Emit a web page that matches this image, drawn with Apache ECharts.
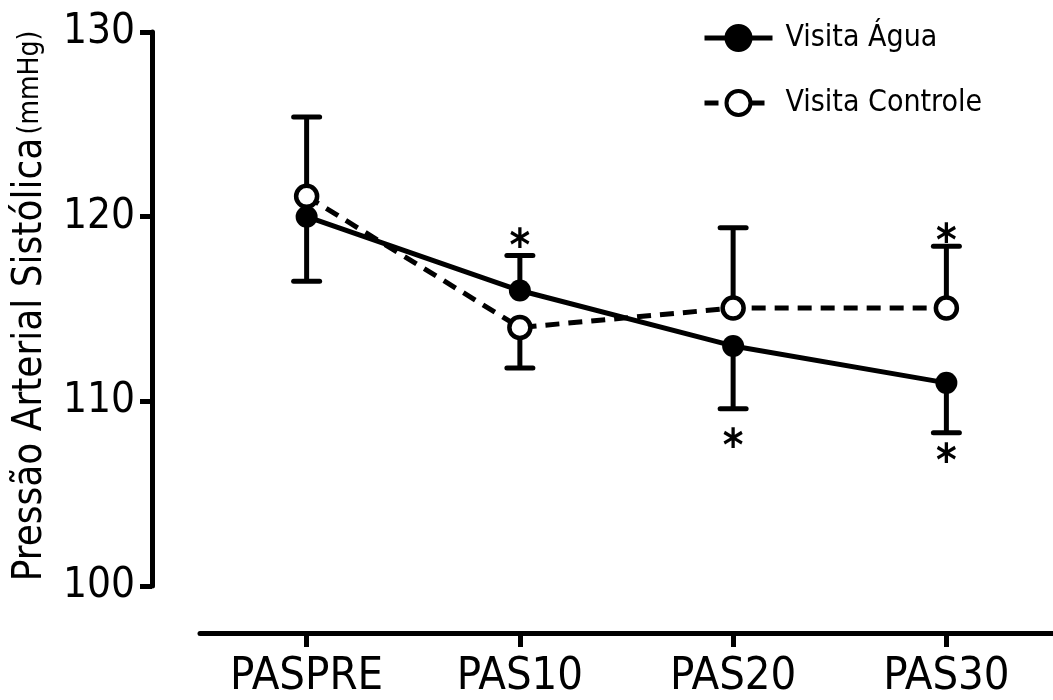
<!DOCTYPE html>
<html>
<head>
<meta charset="utf-8">
<script src="https://cdn.jsdelivr.net/npm/echarts@6/dist/echarts.min.js"></script>
<style>html,body{margin:0;padding:0;background:#fff}#c{width:1053px;height:700px}</style>
</head>
<body>
<div id="c"></div>
<script>
const categories = ['PASPRE', 'PAS10', 'PAS20', 'PAS30'];
const aguaMean = [120, 116, 113, 111];
const aguaErrEnd = [116.5, 117.9, 109.6, 108.3];
const controleMean = [121.1, 114, 115.05, 115.05];
const controleErrEnd = [125.4, 111.8, 119.4, 118.4];
const asterisks = [[1, 118.9], [2, 108.1], [3, 119.2], [3, 107.3]];
const yTicks = [100, 110, 120, 130];

const AXFONT = '"DejaVu Sans Condensed", sans-serif';
const LGFONT = '"DejaVu Sans Condensed", sans-serif';
const LW = 5;
const chart = echarts.init(document.getElementById('c'));

function errData(mean, end) {
  return mean.map((m, i) => [i, m, end[i]]);
}
function errRender(params, api) {
  const p1 = api.coord([api.value(0), api.value(1)]);
  const p2 = api.coord([api.value(0), api.value(2)]);
  const half = 13;
  const st = { stroke: '#000', lineWidth: LW };
  return {
    type: 'group',
    children: [
      { type: 'line', shape: { x1: p1[0], y1: p1[1], x2: p2[0], y2: p2[1] }, style: st },
      { type: 'line', shape: { x1: p2[0] - half, y1: p2[1], x2: p2[0] + half, y2: p2[1] }, style: Object.assign({ lineCap: 'round' }, st) }
    ]
  };
}

chart.setOption({
  animation: false,
  backgroundColor: '#fff',
  grid: { left: 200, right: -7, top: 32, bottom: 112 },
  legend: {
    orient: 'vertical',
    left: 697,
    top: 18,
    itemGap: 35,
    itemWidth: 68,
    itemHeight: 30,
    lineStyle: { width: LW },
    itemStyle: { borderWidth: 4, borderColor: '#000' },
    textStyle: { fontFamily: LGFONT, fontSize: 30, color: '#000', padding: [0, 0, 0, 8] },
    data: ['Visita Água', 'Visita Controle']
  },
  xAxis: {
    type: 'category',
    data: categories,
    boundaryGap: true,
    offset: 47,
    axisLine: { lineStyle: { color: '#000', width: LW } },
    axisTick: { show: true, alignWithLabel: true, length: 14, lineStyle: { color: '#000', width: LW } },
    axisLabel: { color: '#000', fontSize: 45, margin: 22, fontFamily: AXFONT },
    splitLine: { show: false }
  },
  yAxis: {
    type: 'value',
    min: yTicks[0],
    max: yTicks[yTicks.length - 1],
    interval: 10,
    offset: 48,
    axisLine: { show: true, lineStyle: { color: '#000', width: LW } },
    axisTick: { show: true, length: 12, lineStyle: { color: '#000', width: LW } },
    axisLabel: { color: '#000', fontSize: 42, margin: 17, fontFamily: AXFONT },
    splitLine: { show: false },
    name: '{a|Pressão Arterial Sistólica} {b|(mmHg)}',
    nameLocation: 'middle',
    nameGap: 101,
    nameRotate: 90,
    nameTextStyle: {
      padding: [0, 0, 0, 6],
      rich: {
        a: { fontSize: 40, color: '#000', fontFamily: AXFONT },
        b: { fontSize: 28, color: '#000', fontFamily: AXFONT }
      }
    }
  },
  series: [
    {
      type: 'custom', name: 'errA', renderItem: errRender,
      data: errData(aguaMean, aguaErrEnd), encode: { x: 0, y: [1, 2] }, z: 1, silent: true
    },
    {
      type: 'custom', name: 'errC', renderItem: errRender,
      data: errData(controleMean, controleErrEnd), encode: { x: 0, y: [1, 2] }, z: 1, silent: true
    },
    {
      name: 'Visita Água', type: 'line', data: aguaMean, z: 3,
      symbol: 'circle', symbolSize: 22,
      lineStyle: { color: '#000', width: LW },
      itemStyle: { color: '#000', borderColor: '#000', borderWidth: 0 }
    },
    {
      name: 'Visita Controle', type: 'line', data: controleMean, z: 4,
      symbol: 'circle', symbolSize: 21,
      lineStyle: { color: '#000', width: LW, type: [14, 9] },
      itemStyle: { color: '#fff', borderColor: '#000', borderWidth: 4.5 }
    },
    {
      type: 'custom', name: 'stars', silent: true, z: 5,
      data: asterisks, encode: { x: 0, y: 1 },
      renderItem: function (params, api) {
        const p = api.coord([api.value(0), api.value(1)]);
        return {
          type: 'text', x: p[0], y: p[1] + 12,
          style: { text: '*', fontSize: 44, fontWeight: 'bold', fontFamily: LGFONT, fill: '#000', align: 'center', verticalAlign: 'middle' }
        };
      }
    }
  ]
});
</script>
</body>
</html>
